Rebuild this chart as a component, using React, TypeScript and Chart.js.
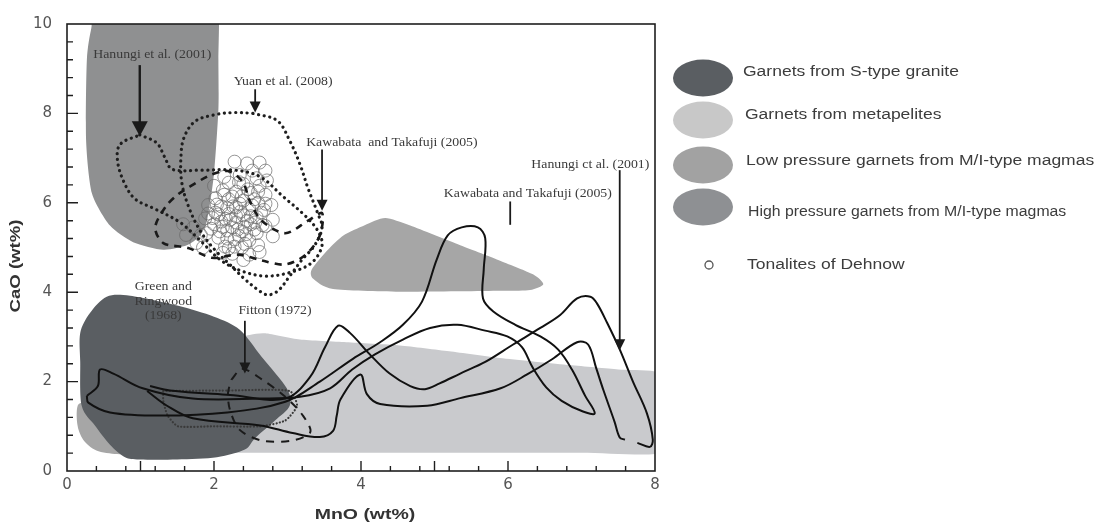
import React, { useEffect, useRef } from 'react';
import { Chart, registerables } from 'chart.js';

Chart.register(...registerables);

type P = [number, number];

// ---------- axes ----------
const X_LABEL_TICKS = [0, 2, 4, 6, 8];
const Y_LABEL_TICKS = [0, 2, 4, 6, 8, 10];
const X_LONG_TICKS = [1, 2, 4, 5, 6];
const Y_LONG_TICKS = [2, 4, 6, 8];
const MINOR_STEP = 0.4;

// ---------- filled fields (MnO, CaO) ----------
const METAPELITES: P[] = [
  [2.3, 2.95], [2.5, 3.05], [2.7, 3.08], [3.17, 2.94], [3.8, 2.88], [4.53, 2.81], [5.2, 2.68],
  [5.89, 2.53], [6.84, 2.37], [7.5, 2.27], [8.08, 2.18], [8.08, 1.3], [8.08, 0.41], [7.0, 0.41],
  [5.0, 0.41], [3.5, 0.41], [2.49, 0.41], [1.5, 0.42], [1.0, 0.6], [1.2, 1.5], [2.0, 2.5],
];
const LOW_P_LEFT: P[] = [
  [0.16, 1.5], [0.4, 1.42], [0.7, 0.8], [0.92, 0.4], [0.68, 0.38], [0.4, 0.46], [0.22, 0.7], [0.14, 1.05],
];
const S_TYPE_GRANITE: P[] = [
  [0.54, 3.9], [0.86, 3.92], [1.5, 3.7], [2.0, 3.45], [2.35, 3.16], [2.65, 2.55], [2.99, 1.85],
  [3.03, 1.46], [2.83, 1.13], [2.56, 0.74], [2.42, 0.48], [2.04, 0.31], [1.5, 0.26], [0.99, 0.26],
  [0.79, 0.31], [0.585, 0.59], [0.38, 1.02], [0.2, 1.46], [0.18, 2.44], [0.18, 3.09], [0.31, 3.53],
];
const HIGH_P: P[] = [
  [0.42, 10.4], [1.2, 10.4], [1.9, 10.4], [2.06, 10.4], [2.06, 9.2], [2.06, 8.1], [2.0, 6.65],
  [1.91, 5.64], [1.81, 5.27], [1.63, 5.05], [1.31, 4.95], [0.9, 5.12], [0.585, 5.49], [0.34, 6.21],
  [0.26, 7.39], [0.27, 9.19], [0.33, 9.9],
];
const LOW_P_RIGHT: P[] = [
  [3.33, 4.51], [3.55, 4.95], [3.76, 5.27], [4.05, 5.5], [4.33, 5.66], [4.67, 5.49], [5.35, 5.05],
  [5.9, 4.7], [6.34, 4.4], [6.48, 4.18], [6.3, 4.05], [5.89, 4.03], [4.53, 4.01], [3.62, 4.07], [3.35, 4.3],
];

// ---------- Tonalites of Dehnow ----------
const TONALITES: P[] = [
  [2.28, 6.92], [2.45, 6.88], [2.62, 6.9], [2.52, 6.72], [2.7, 6.72], [2.35, 6.62], [2.58, 6.55],
  [2.2, 6.45], [2.4, 6.42], [2.62, 6.38], [2.12, 6.28], [2.3, 6.25], [2.5, 6.22], [2.7, 6.18],
  [2.02, 6.1], [2.2, 6.08], [2.4, 6.05], [2.6, 6.0], [1.92, 5.95], [2.1, 5.92], [2.3, 5.9],
  [2.48, 5.86], [2.68, 5.84], [2.02, 5.78], [2.2, 5.75], [2.4, 5.72], [2.58, 5.68], [1.88, 5.65],
  [2.1, 5.58], [2.3, 5.56], [2.5, 5.52], [2.7, 5.48], [1.96, 5.42], [2.18, 5.38], [2.38, 5.36],
  [2.58, 5.32], [2.06, 5.22], [2.28, 5.18], [2.48, 5.16], [1.82, 5.28], [2.15, 5.02], [2.38, 5.0],
  [2.6, 5.05], [2.25, 4.86], [2.48, 4.84], [1.72, 5.45], [1.76, 5.1], [2.8, 5.62], [2.8, 5.25],
  [2.14, 6.58], [2.0, 6.38], [1.92, 5.76], [2.35, 5.98], [2.45, 5.6], [2.25, 5.45], [2.06, 5.74],
  [2.55, 6.08], [2.16, 5.64], [2.34, 5.26], [2.64, 5.78], [2.46, 6.3], [2.25, 6.14], [2.55, 5.4],
  [2.0, 5.52], [2.4, 4.72], [1.62, 5.28], [1.58, 5.52], [2.72, 6.5], [2.62, 4.9], [2.12, 4.88],
  [2.78, 5.95], [1.85, 5.0], [2.3, 5.7], [2.18, 5.88], [2.42, 5.46], [2.08, 5.36], [2.52, 5.94], [2.28, 5.02],
  [2.22, 5.62], [2.36, 5.8], [2.12, 5.46], [2.44, 5.3], [2.26, 5.92], [2.04, 5.96], [2.56, 5.56],
  [2.32, 5.4], [2.18, 5.2], [2.5, 5.7], [2.38, 6.15], [2.66, 5.5], [1.98, 5.66], [2.14, 6.18],
  [2.6, 6.25], [2.42, 5.08], [2.2, 4.98], [1.9, 5.32], [2.7, 5.98], [2.34, 6.46],
];

// ---------- literature outlines ----------
const HANUNGI_DOTTED: P[] = [
  [0.99, 7.52], [1.22, 7.34], [1.33, 7.02], [1.43, 6.75], [1.81, 6.73], [2.29, 6.73], [2.63, 6.58],
  [2.94, 6.14], [3.24, 5.71], [3.41, 5.38], [3.47, 5.05], [3.33, 4.66], [3.03, 4.44], [2.69, 4.36],
  [2.35, 4.49], [2.08, 4.73], [1.81, 5.16], [1.54, 5.56], [1.2, 5.86], [0.93, 6.08], [0.79, 6.41],
  [0.69, 6.91], [0.72, 7.3], [0.99, 7.52],
];
const YUAN_DOTTED: P[] = [
  [2.53, 8.0], [2.86, 7.84], [3.03, 7.39], [3.17, 6.86], [3.28, 6.32], [3.41, 5.77], [3.47, 5.45],
  [3.37, 5.05], [3.2, 4.73], [3.03, 4.36], [2.87, 4.03], [2.73, 3.94], [2.6, 4.05], [2.42, 4.29],
  [2.24, 4.58], [2.01, 4.95], [1.81, 5.38], [1.65, 5.93], [1.56, 6.47], [1.55, 7.02], [1.59, 7.45],
  [1.74, 7.82], [2.01, 7.97], [2.29, 8.02], [2.53, 8.0],
];
const KAWABATA_DASHED: P[] = [
  [1.67, 6.36], [1.95, 6.62], [2.19, 6.71], [2.39, 6.47], [2.49, 6.03], [2.65, 5.6], [2.97, 5.32],
  [3.28, 5.6], [3.47, 5.77], [3.44, 5.27], [3.25, 4.84], [2.97, 4.62], [2.65, 4.71], [2.33, 4.84],
  [1.97, 4.77], [1.65, 4.99], [1.31, 5.1], [1.2, 5.45], [1.35, 5.93], [1.51, 6.19], [1.67, 6.36],
];
const FITTON_DASHED: P[] = [
  [2.24, 2.05], [2.38, 2.29], [2.65, 2.05], [2.97, 1.66], [3.21, 1.24], [3.31, 0.87], [3.06, 0.68],
  [2.65, 0.68], [2.35, 0.92], [2.22, 1.35], [2.19, 1.74], [2.24, 2.05],
];
const GREEN_DOTTED: P[] = [
  [1.31, 1.79], [2.2, 1.8], [3.03, 1.79], [3.13, 1.46], [2.97, 1.13], [2.63, 1.0], [2.0, 1.0],
  [1.51, 1.0], [1.37, 1.24], [1.31, 1.57], [1.31, 1.79],
];
const LOOP_A: P[] = [
  [0.27, 1.68], [0.29, 1.53], [0.585, 1.31], [1.27, 1.24], [2.18, 1.31], [2.97, 1.55], [3.44, 2.0],
  [3.89, 2.51], [4.26, 2.88], [4.57, 3.27], [4.83, 3.79], [5.03, 4.73], [5.18, 5.27], [5.37, 5.45],
  [5.59, 5.45], [5.69, 5.21], [5.67, 4.51], [5.66, 3.86], [5.8, 3.57], [6.1, 3.27], [6.44, 3.01],
  [6.68, 2.72], [6.87, 2.27], [7.05, 1.68], [7.18, 1.29], [7.02, 1.33], [6.73, 1.57], [6.52, 1.87],
  [6.33, 2.33], [6.19, 2.77], [5.99, 3.01], [5.69, 3.14], [5.31, 3.27], [4.94, 3.2], [4.57, 2.94],
  [4.19, 2.61], [3.88, 2.27], [3.58, 1.85], [3.17, 1.66], [2.63, 1.62], [1.71, 1.62], [1.03, 1.85],
  [0.63, 2.18], [0.45, 2.27], [0.42, 1.9], [0.27, 1.68],
];
const CURVE_B: P[] = [
  [1.13, 1.9], [1.4, 1.8], [2.22, 1.7], [2.97, 1.62], [3.31, 2.11], [3.51, 2.77], [3.69, 3.25],
  [3.85, 3.09], [4.12, 2.61], [4.39, 2.18], [4.67, 1.9], [4.87, 1.83], [5.07, 1.96], [5.35, 2.18],
  [5.69, 2.44], [6.07, 2.83], [6.44, 3.2], [6.71, 3.49], [6.94, 3.86], [7.12, 3.9], [7.21, 3.75],
  [7.35, 3.31], [7.52, 2.72], [7.7, 2.0], [7.89, 1.29], [7.97, 0.7], [7.93, 0.54], [7.76, 0.63],
];
const CURVE_C: P[] = [
  [1.09, 1.79], [1.36, 1.46], [1.71, 1.18], [2.63, 1.02], [3.07, 0.85], [3.44, 0.76], [3.62, 0.9],
  [3.67, 1.24], [3.72, 1.6], [3.99, 2.16], [4.08, 1.72], [4.26, 1.5], [4.9, 1.46], [5.35, 1.63],
  [5.9, 1.85], [6.26, 2.16], [6.6, 2.5], [6.94, 2.88], [7.09, 2.83], [7.2, 2.3], [7.3, 1.8],
  [7.45, 1.1], [7.52, 0.75], [7.59, 0.7],
];

// ---------- annotations ----------
const NOTE_TEXTS = [
  'Hanungi et al. (2001)', 'Yuan et al. (2008)', 'Kawabata  and Takafuji (2005)',
  'Hanungi ct al. (2001)', 'Kawabata and Takafuji (2005)', 'Green and', 'Ringwood', '(1968)', 'Fitton (1972)',
];
const NOTE_X = [1.16, 2.94, 4.42, 7.12, 6.27, 1.31, 1.31, 1.31, 2.83];
const NOTE_Y = [9.3, 8.71, 7.34, 6.86, 6.19, 4.12, 3.79, 3.46, 3.59];
const ARROW_X = [0.99, 2.56, 3.47, 7.52, 6.03, 2.42];
const ARROW_FROM = [9.08, 8.54, 7.19, 6.73, 6.03, 3.36];
const ARROW_TO = [7.49, 8.02, 5.82, 2.7, 5.53, 2.18];
const ARROW_HEAD = [true, true, true, true, false, true];

// ---------- legend ----------
const LEGEND_LABELS = [
  'Garnets from S-type granite', 'Garnets from metapelites',
  'Low pressure garnets from M/I-type magmas', 'High pressure garnets from M/I-type magmas',
];
const TONALITE_LABEL = 'Tonalites of Dehnow';

// ---------- styles ----------
const COL_METAPELITE = '#c9cacd';
const COL_LOWP = '#a6a6a6';
const COL_STYPE = '#5a5e62';
const COL_HIGHP = '#8f9091';
const LEGEND_COLORS = [COL_STYPE, '#c8c8c8', '#a2a2a2', '#8e9093'];
const LEGEND_ELLIPSE_Y = [78, 120, 165, 207];
const LEGEND_TEXT_Y = [72, 115, 161, 212];
const LEGEND_TEXT_X = [743, 745, 746, 748];
const LEGEND_TEXT_SX = [1.25, 1.25, 1.25, 1.13];

const REGIONS: { pts: P[]; color: string; k: number }[] = [
  { pts: METAPELITES, color: COL_METAPELITE, k: 0.6 },
  { pts: LOW_P_LEFT, color: COL_LOWP, k: 0.9 },
  { pts: S_TYPE_GRANITE, color: COL_STYPE, k: 0.9 },
  { pts: HIGH_P, color: COL_HIGHP, k: 0.7 },
  { pts: LOW_P_RIGHT, color: COL_LOWP, k: 0.7 },
];

const toXY = (pts: P[]) => pts.map(([x, y]) => ({ x, y }));

function drawText(
  ctx: CanvasRenderingContext2D, text: string, x: number, y: number, font: string,
  color: string, align: CanvasTextAlign, sx = 1, rot = 0,
) {
  ctx.save();
  ctx.translate(x, y);
  if (rot) ctx.rotate(rot);
  ctx.scale(sx, 1);
  ctx.font = font;
  ctx.fillStyle = color;
  ctx.textAlign = align;
  ctx.textBaseline = 'middle';
  ctx.fillText(text, 0, 0);
  ctx.restore();
}

function smoothClosed(ctx: CanvasRenderingContext2D, pts: { x: number; y: number }[], k: number) {
  const n = pts.length;
  ctx.beginPath();
  ctx.moveTo(pts[0].x, pts[0].y);
  for (let i = 0; i < n; i++) {
    const p0 = pts[(i - 1 + n) % n];
    const p1 = pts[i];
    const p2 = pts[(i + 1) % n];
    const p3 = pts[(i + 2) % n];
    const c1x = p1.x + ((p2.x - p0.x) / 6) * k;
    const c1y = p1.y + ((p2.y - p0.y) / 6) * k;
    const c2x = p2.x - ((p3.x - p1.x) / 6) * k;
    const c2y = p2.y - ((p3.y - p1.y) / 6) * k;
    ctx.bezierCurveTo(c1x, c1y, c2x, c2y, p2.x, p2.y);
  }
  ctx.closePath();
}

const fieldsPlugin = {
  id: 'fields',
  beforeDatasetsDraw(chart: any) {
    const { ctx, chartArea } = chart;
    const xs = chart.scales.x;
    const ys = chart.scales.y;
    ctx.save();
    ctx.beginPath();
    ctx.rect(chartArea.left, chartArea.top, chartArea.right - chartArea.left, chartArea.bottom - chartArea.top);
    ctx.clip();
    for (const r of REGIONS) {
      const px = r.pts.map(([x, y]) => ({ x: xs.getPixelForValue(x), y: ys.getPixelForValue(y) }));
      smoothClosed(ctx, px, r.k);
      ctx.fillStyle = r.color;
      ctx.fill();
    }
    ctx.restore();
  },
};

const decorPlugin = {
  id: 'decor',
  afterDatasetsDraw(chart: any) {
    const { ctx, chartArea } = chart;
    const { left, right, top, bottom } = chartArea;
    const xs = chart.scales.x;
    const ys = chart.scales.y;
    ctx.save();

    // frame
    ctx.strokeStyle = '#1e1e1e';
    ctx.lineWidth = 1.6;
    ctx.strokeRect(left, top, right - left, bottom - top);

    // inward ticks
    ctx.lineWidth = 1.4;
    ctx.beginPath();
    for (let i = 1; i * MINOR_STEP < 8 - 1e-6; i++) {
      const px = xs.getPixelForValue(i * MINOR_STEP);
      ctx.moveTo(px, bottom);
      ctx.lineTo(px, bottom - 5);
    }
    for (const v of X_LONG_TICKS) {
      const px = xs.getPixelForValue(v);
      ctx.moveTo(px, bottom);
      ctx.lineTo(px, bottom - 10);
    }
    for (let i = 1; i * MINOR_STEP < 10 - 1e-6; i++) {
      const py = ys.getPixelForValue(i * MINOR_STEP);
      ctx.moveTo(left, py);
      ctx.lineTo(left + 6, py);
    }
    for (const v of Y_LONG_TICKS) {
      const py = ys.getPixelForValue(v);
      ctx.moveTo(left, py);
      ctx.lineTo(left + 11, py);
    }
    ctx.stroke();

    // arrows
    for (let i = 0; i < ARROW_X.length; i++) {
      const x = xs.getPixelForValue(ARROW_X[i]);
      const y1 = ys.getPixelForValue(ARROW_FROM[i]);
      const y2 = ys.getPixelForValue(ARROW_TO[i]);
      const big = i === 0;
      const hl = ARROW_HEAD[i] ? (big ? 15 : 11) : 0;
      const hw = big ? 8 : 5.5;
      ctx.strokeStyle = '#1a1a1a';
      ctx.lineWidth = big ? 2.4 : 1.8;
      ctx.beginPath();
      ctx.moveTo(x, y1);
      ctx.lineTo(x, y2 - hl + 1);
      ctx.stroke();
      if (ARROW_HEAD[i]) {
        ctx.fillStyle = '#1a1a1a';
        ctx.beginPath();
        ctx.moveTo(x - hw, y2 - hl);
        ctx.lineTo(x + hw, y2 - hl);
        ctx.lineTo(x, y2);
        ctx.closePath();
        ctx.fill();
      }
    }

    // annotation texts
    for (let i = 0; i < NOTE_TEXTS.length; i++) {
      drawText(
        ctx, NOTE_TEXTS[i], xs.getPixelForValue(NOTE_X[i]), ys.getPixelForValue(NOTE_Y[i]),
        '12px "Liberation Serif"', '#3a3a3a', 'center', 1.15,
      );
    }

    // axis titles
    drawText(ctx, 'MnO (wt%)', 365, 515, 'bold 15px "Liberation Sans"', '#333', 'center', 1.3);
    drawText(ctx, 'CaO (wt%)', 16, 266, 'bold 15px "Liberation Sans"', '#333', 'center', 1.24, -Math.PI / 2);

    // legend
    for (let i = 0; i < LEGEND_LABELS.length; i++) {
      ctx.fillStyle = LEGEND_COLORS[i];
      ctx.beginPath();
      ctx.ellipse(703, LEGEND_ELLIPSE_Y[i], 30, 18.5, 0, 0, Math.PI * 2);
      ctx.fill();
      drawText(ctx, LEGEND_LABELS[i], LEGEND_TEXT_X[i], LEGEND_TEXT_Y[i], '14px "Liberation Sans"', '#3c3c3c', 'left', LEGEND_TEXT_SX[i]);
    }
    ctx.strokeStyle = '#555';
    ctx.lineWidth = 1.3;
    ctx.beginPath();
    ctx.arc(709, 265, 4, 0, Math.PI * 2);
    ctx.stroke();
    drawText(ctx, TONALITE_LABEL, 747, 265, '14px "Liberation Sans"', '#3c3c3c', 'left', 1.25);

    ctx.restore();
  },
};

export default function App() {
  const canvasRef = useRef<HTMLCanvasElement | null>(null);

  useEffect(() => {
    const canvas = canvasRef.current;
    if (!canvas) return;

    const lineDs = (pts: P[], opts: any) => ({
      data: toXY(pts),
      showLine: true,
      pointRadius: 0,
      pointHoverRadius: 0,
      fill: false,
      ...opts,
    });

    const dotted = { borderColor: '#1e1e1e', borderWidth: 3.2, borderDash: [0.1, 5.6], borderCapStyle: 'round', tension: 0.35 };
    const dashed = { borderColor: '#1a1a1a', borderWidth: 2.6, borderDash: [7, 6], borderCapStyle: 'butt', tension: 0.3 };
    const solid = { borderColor: '#111', borderWidth: 2, tension: 0.35, borderJoinStyle: 'round' };

    const chart = new Chart(canvas, {
      type: 'scatter',
      data: {
        datasets: [
          lineDs(LOOP_A, { ...solid, order: 1 }),
          lineDs(CURVE_B, { ...solid, order: 1 }),
          lineDs(CURVE_C, { ...solid, order: 1 }),
          lineDs(KAWABATA_DASHED, { ...dashed, order: 2 }),
          lineDs(FITTON_DASHED, { ...dashed, borderWidth: 2, borderDash: [8, 7], order: 2 }),
          lineDs(HANUNGI_DOTTED, { ...dotted, order: 3 }),
          lineDs(YUAN_DOTTED, { ...dotted, order: 3 }),
          lineDs(GREEN_DOTTED, { ...dotted, borderColor: '#3a3a3a', borderWidth: 2.2, borderDash: [0.1, 3.2], tension: 0.2, order: 3 }),
          {
            data: toXY(TONALITES),
            showLine: false,
            pointRadius: 6.5,
            pointHoverRadius: 6.5,
            pointBorderWidth: 1,
            pointBorderColor: 'rgba(105,105,105,0.7)',
            pointBackgroundColor: 'rgba(255,255,255,0)',
            order: 4,
          },
        ],
      },
      options: {
        animation: false,
        responsive: false,
        events: [],
        layout: { padding: { left: 0, right: 449, top: 13, bottom: 0 } },
        plugins: { legend: { display: false }, tooltip: { enabled: false } },
        scales: {
          x: {
            type: 'linear',
            min: 0,
            max: 8,
            afterBuildTicks: (scale: any) => {
              scale.ticks = X_LABEL_TICKS.map((v) => ({ value: v }));
            },
            afterFit: (scale: any) => {
              scale.height = 58;
            },
            grid: { display: false, drawTicks: false },
            border: { display: false },
            ticks: { font: { family: 'DejaVu Sans', size: 15 }, color: '#555', padding: 5, maxRotation: 0 },
          },
          y: {
            type: 'linear',
            min: 0,
            max: 10,
            afterBuildTicks: (scale: any) => {
              scale.ticks = Y_LABEL_TICKS.map((v) => ({ value: v }));
            },
            afterFit: (scale: any) => {
              scale.width = 67;
            },
            grid: { display: false, drawTicks: false },
            border: { display: false },
            ticks: { font: { family: 'DejaVu Sans', size: 15 }, color: '#555', padding: 15 },
          },
        },
      } as any,
      plugins: [fieldsPlugin, decorPlugin],
    } as any);

    return () => {
      chart.destroy();
    };
  }, []);

  return (
    <div style={{ position: 'fixed', left: 0, top: 0, width: 1104, height: 529, background: '#fff' }}>
      <canvas ref={canvasRef} width={1104} height={529} style={{ display: 'block', width: 1104, height: 529 }} />
    </div>
  );
}
